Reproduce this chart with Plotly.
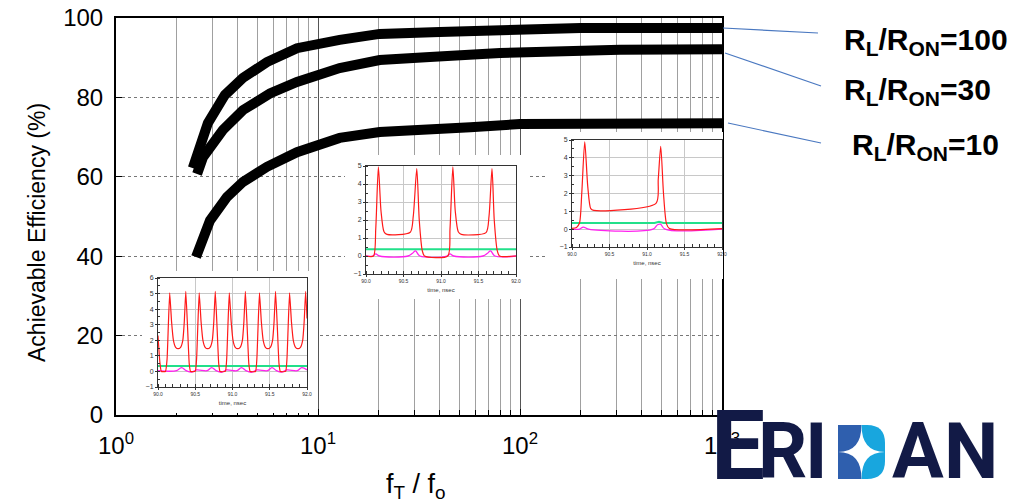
import plotly.graph_objects as go

W, H = 1028, 502

# ---------------- data: main chart ----------------
series_names = ["R<sub>L</sub>/R<sub>ON</sub>=100", "R<sub>L</sub>/R<sub>ON</sub>=30", "R<sub>L</sub>/R<sub>ON</sub>=10"]

ft_fo_100 = [2.40, 2.85, 3.46, 4.25, 5.59, 7.87, 12.8, 16.1, 20.2, 40, 89, 200, 1000]
eff_100 = [62.2, 73.5, 80.6, 84.9, 88.9, 92.4, 94.5, 95.0, 96.0, 96.5, 97.3, 97.5, 97.5]

ft_fo_30 = [2.52, 2.70, 3.38, 4.25, 5.78, 7.87, 12.8, 20.2, 35.8, 79.6, 313, 1000]
eff_30 = [60.7, 65.0, 71.8, 76.8, 81.0, 83.9, 87.4, 89.4, 90.2, 91.2, 92.0, 92.1]

ft_fo_10 = [2.49, 2.92, 3.54, 4.25, 5.59, 7.87, 12.8, 20.2, 56.8, 100, 1000]
eff_10 = [39.8, 49.0, 54.9, 58.7, 62.5, 66.2, 69.8, 71.3, 72.5, 73.3, 73.5]

x_tickvals = [1, 10, 100, 1000]
x_ticktext = ["10<sup>0</sup>", "10<sup>1</sup>", "10<sup>2</sup>", "10<sup>3</sup>"]
x_minorvals = [2, 3, 4, 5, 6, 7, 8, 9, 20, 30, 40, 50, 60, 70, 80, 90,
               200, 300, 400, 500, 600, 700, 800, 900]
y_tickvals = [0, 20, 40, 60, 80, 100]

# ---------------- data: inset waveforms ----------------
inset_xticks = [90.0, 90.5, 91.0, 91.5, 92.0]
inset_xticktext = ["90.0", "90.5", "91.0", "91.5", "92.0"]

# inset 1 (lowest fT/fo)
t1_red = [90.000, 90.025, 90.045, 90.100, 90.122, 90.139,
          90.157, 90.182, 90.207, 90.237, 90.270, 90.303, 90.333, 90.353, 90.373, 90.397, 90.419, 90.437,
          90.500, 90.518, 90.535,
          90.553, 90.578, 90.603, 90.633, 90.666, 90.699, 90.729, 90.749, 90.769, 90.793, 90.815, 90.833,
          90.904, 90.922, 90.939,
          90.957, 90.982, 91.007, 91.037, 91.070, 91.103, 91.133, 91.153, 91.173, 91.197, 91.219, 91.237,
          91.309, 91.327, 91.344,
          91.362, 91.387, 91.412, 91.442, 91.475, 91.508, 91.538, 91.558, 91.578, 91.602, 91.624, 91.642,
          91.713, 91.731, 91.748,
          91.766, 91.791, 91.816, 91.846, 91.879, 91.912, 91.942, 91.962, 91.982, 92.000]
v1_red = [2.3, 0.6, 0.0, 0.0, 0.8, 3.0,
          5.05, 3.2, 2.0, 1.55, 1.46, 1.55, 2.0, 3.2, 5.15, 2.8, 0.5, 0.0,
          0.0, 0.8, 3.0,
          5.05, 3.2, 2.0, 1.55, 1.46, 1.55, 2.0, 3.2, 5.15, 2.8, 0.5, 0.0,
          0.0, 0.8, 3.0,
          5.05, 3.2, 2.0, 1.55, 1.46, 1.55, 2.0, 3.2, 5.15, 2.8, 0.5, 0.0,
          0.0, 0.8, 3.0,
          5.05, 3.2, 2.0, 1.55, 1.46, 1.55, 2.0, 3.2, 5.15, 2.8, 0.5, 0.0,
          0.0, 0.8, 3.0,
          5.05, 3.2, 2.0, 1.55, 1.46, 1.55, 2.0, 3.2, 5.15, 3.4]
t1_mag = [90.0, 90.25, 90.315, 90.38, 90.45, 90.52, 90.66, 90.72, 90.78, 90.86, 90.92, 91.06,
          91.12, 91.18, 91.26, 91.33, 91.47, 91.53, 91.59, 91.66, 91.73, 91.87, 91.93, 92.0]
v1_mag = [0.05, 0.05, 0.25, 0.05, -0.05, 0.1, 0.05, 0.25, 0.05, -0.05, 0.1, 0.05,
          0.25, 0.05, -0.05, 0.1, 0.05, 0.25, 0.05, -0.05, 0.1, 0.05, 0.25, 0.1]
t1_grn = [90.0, 92.0]
v1_grn = [0.35, 0.35]

# inset 2
t2_red = [90.0, 90.10, 90.13, 90.165, 90.20, 90.24, 90.28, 90.59, 90.63, 90.677, 90.71, 90.75, 90.78,
          91.09, 91.12, 91.158, 91.19, 91.23, 91.27, 91.60, 91.64, 91.68, 91.71, 91.75, 91.78, 92.0]
v2_red = [0.0, 0.0, 1.5, 4.95, 2.5, 1.35, 1.2, 1.32, 2.2, 4.85, 2.0, 0.3, 0.0,
          0.0, 1.5, 4.95, 2.5, 1.35, 1.2, 1.3, 2.2, 4.85, 2.0, 0.3, 0.0, 0.0]
t2_mag = [90.0, 90.09, 90.13, 90.18, 90.56, 90.62, 90.66, 90.72, 91.08, 91.12, 91.17,
          91.56, 91.62, 91.66, 91.72, 92.0]
v2_mag = [0.0, 0.0, 0.12, 0.0, 0.0, 0.15, 0.28, 0.0, 0.0, 0.12, 0.0, 0.0, 0.15, 0.28, 0.0, 0.0]
t2_grn = [90.0, 92.0]
v2_grn = [0.38, 0.38]

# inset 3
t3_red = [90.0, 90.06, 90.10, 90.13, 90.17, 90.21, 90.25, 90.29, 91.12, 91.15, 91.183, 91.22, 91.26, 91.30, 92.0]
v3_red = [0.05, 0.1, 0.35, 2.0, 4.9, 2.4, 1.15, 1.05, 1.45, 2.8, 4.65, 2.0, 0.3, 0.03, 0.03]
t3_mag = [90.0, 90.1, 90.15, 90.22, 91.08, 91.14, 91.18, 91.24, 92.0]
v3_mag = [0.0, 0.0, 0.12, 0.0, 0.0, 0.25, 0.28, 0.0, 0.0]
t3_grn = [90.0, 91.10, 91.16, 91.22, 92.0]
v3_grn = [0.35, 0.35, 0.42, 0.35, 0.35]

# ---------------- helpers ----------------
def px_x(p):
    return p / W

def px_y(p):
    return 1 - p / H

FONT = "Liberation Sans"
RED, GRN, MAG = "#ff1a1a", "#22e08a", "#ff22ee"

fig = go.Figure()

# main curves
for xs, ys in [(ft_fo_100, eff_100), (ft_fo_30, eff_30), (ft_fo_10, eff_10)]:
    fig.add_trace(go.Scatter(x=xs, y=ys, mode="lines", line=dict(color="black", width=10),
                             xaxis="x", yaxis="y", showlegend=False, hoverinfo="skip"))

# insets: (cover box px, plot area px, yrange, red smoothing, data)
insets = [
    ((142, 318, 271, 413), (158, 307, 278, 387), [-1, 6], 0.4,
     (t1_red, v1_red, t1_grn, v1_grn, t1_mag, v1_mag)),
    ((345, 529, 155, 299), (366, 516, 166, 274), [-1, 5], 0.7,
     (t2_red, v2_red, t2_grn, v2_grn, t2_mag, v2_mag)),
    ((545, 723, 132, 279), (572, 722, 140, 247), [-1, 5], 0.7,
     (t3_red, v3_red, t3_grn, v3_grn, t3_mag, v3_mag)),
]

layout_axes = {}
ax = 2
for cover, area, yr, smooth, data in insets:
    cx, cy = f"x{ax}", f"y{ax}"
    fig.add_trace(go.Scatter(x=[0, 1, 1, 0, 0], y=[0, 0, 1, 1, 0], fill="toself",
                             fillcolor="white", line=dict(width=0), mode="lines",
                             xaxis=cx, yaxis=cy, showlegend=False, hoverinfo="skip"))
    layout_axes[f"xaxis{ax}"] = dict(domain=[px_x(cover[0]), px_x(cover[1])], range=[0, 1],
                                     visible=False, anchor=cy, automargin=False)
    layout_axes[f"yaxis{ax}"] = dict(domain=[px_y(cover[3]), px_y(cover[2])], range=[0, 1],
                                     visible=False, anchor=cx, automargin=False)
    ax += 1
    ix, iy = f"x{ax}", f"y{ax}"
    tr, vr, tg, vg, tm, vm = data
    fig.add_trace(go.Scatter(x=tg, y=vg, mode="lines", line=dict(color=GRN, width=2),
                             xaxis=ix, yaxis=iy, showlegend=False, hoverinfo="skip"))
    fig.add_trace(go.Scatter(x=tm, y=vm, mode="lines", line=dict(color=MAG, width=1.3, shape="spline"),
                             xaxis=ix, yaxis=iy, showlegend=False, hoverinfo="skip"))
    fig.add_trace(go.Scatter(x=tr, y=vr, mode="lines",
                             line=dict(color=RED, width=1.2, shape="spline", smoothing=smooth),
                             xaxis=ix, yaxis=iy, showlegend=False, hoverinfo="skip"))
    layout_axes[f"xaxis{ax}"] = dict(
        domain=[px_x(area[0]), px_x(area[1])], range=[90, 92], anchor=iy, automargin=False,
        tickvals=inset_xticks, ticktext=inset_xticktext, tickfont=dict(family=FONT, size=5, color="#333"),
        showline=True, mirror=True, linecolor="#333", linewidth=1,
        showgrid=True, gridcolor="#c8c8c8", gridwidth=1, zeroline=False,
        ticks="outside", ticklen=2, tickcolor="#333",
        minor=dict(dtick=0.1, ticks="inside", ticklen=3, tickcolor="#333", showgrid=False),
        title=dict(text="time, nsec", font=dict(family=FONT, size=6, color="#333"), standoff=4))
    layout_axes[f"yaxis{ax}"] = dict(
        domain=[px_y(area[3]), px_y(area[2])], range=yr, anchor=ix, dtick=1, automargin=False,
        tickfont=dict(family=FONT, size=7, color="#333"),
        showline=True, mirror=True, linecolor="#333", linewidth=1,
        showgrid=True, gridcolor="#c8c8c8", gridwidth=1, zeroline=False,
        ticks="outside", ticklen=2, tickcolor="#333",
        minor=dict(dtick=0.5, ticks="inside", ticklen=2, tickcolor="#333", showgrid=False))
    ax += 1

# ---------------- layout ----------------
annotations = [
    dict(text="Achievable Efficiency (%)", x=px_x(37), y=px_y(233), xref="paper", yref="paper",
         xanchor="center", yanchor="middle",
         textangle=-90, showarrow=False, font=dict(family=FONT, size=23, color="black")),
    dict(text="f<sub>T</sub> / f<sub>o</sub>", x=px_x(416), y=px_y(486), xref="paper", yref="paper",
         xanchor="center", yanchor="middle",
         showarrow=False, font=dict(family=FONT, size=27, color="black")),
]
label_pos = [(842, 41), (842, 91), (850, 147)]
for name, (lx, ly) in zip(series_names, label_pos):
    annotations.append(dict(text=f"<b>{name}</b>", x=px_x(lx), y=px_y(ly), xref="paper", yref="paper",
                            xanchor="left", yanchor="middle", showarrow=False,
                            font=dict(family=FONT, size=30, color="black")))

NAVY = "#121a46"
LOGO_FONT = "Roboto"
logo_letters = [("E", 737.5, 446, 96), ("R", 782.5, 452, 77), ("I", 816, 452, 77),
                ("A", 917.5, 452, 77), ("N", 971, 452, 77)]
for ch, lx, ly, fs in logo_letters:
    annotations.append(dict(text=f"<b>{ch}</b>", x=px_x(lx), y=px_y(ly), xref="paper", yref="paper",
                            xanchor="center", yanchor="middle", showarrow=False,
                            font=dict(family=LOGO_FONT, size=fs, color=NAVY, weight=900)))

shapes = []
for (x0, y0, x1, y1) in [(723, 28, 818, 33), (725, 53, 821, 86), (728, 123, 821, 143)]:
    shapes.append(dict(type="line", xref="paper", yref="paper", x0=px_x(x0), y0=px_y(y0),
                       x1=px_x(x1), y1=px_y(y1), line=dict(color="#4a78c0", width=1.2)))

# logo "D" icon
L, R_, T, B = 838, 885, 425, 479
cxm, cym = (L + R_) / 2, (T + B) / 2
r = 18
def P(x, y):
    return f"{px_x(x):.5f},{px_y(y):.5f}"
shapes.append(dict(type="path", xref="paper", yref="paper", line=dict(width=0), fillcolor="#2f5fae",
                   path=f"M{P(L,T)} L{P(cxm,T)} L{P(cxm,B)} L{P(L,B)} Z"))
shapes.append(dict(type="path", xref="paper", yref="paper", line=dict(width=0), fillcolor="#18a6de",
                   path=f"M{P(cxm,T)} L{P(R_-r,T)} Q{P(R_,T)} {P(R_,T+r)} L{P(R_,B-r)} Q{P(R_,B)} {P(R_-r,B)} L{P(cxm,B)} Z"))
shapes.append(dict(type="path", xref="paper", yref="paper", line=dict(width=0), fillcolor="white",
                   path=f"M{P(cxm,T)} Q{P(cxm,cym)} {P(R_,cym)} Q{P(cxm,cym)} {P(cxm,B)} Q{P(cxm,cym)} {P(L,cym)} Q{P(cxm,cym)} {P(cxm,T)} Z"))

fig.update_layout(
    width=W, height=H, margin=dict(l=0, r=0, t=0, b=0, autoexpand=False),
    paper_bgcolor="white", plot_bgcolor="white", showlegend=False,
    xaxis=dict(type="log", range=[0, 3], domain=[px_x(116), px_x(722)], anchor="y", automargin=False,
               tickvals=x_tickvals, ticktext=x_ticktext,
               tickfont=dict(family=FONT, size=24, color="black"), ticklabelstandoff=8,
               showline=True, mirror=True, linecolor="black", linewidth=2,
               ticks="inside", ticklen=6, tickcolor="black",
               showgrid=True, gridcolor="#555", gridwidth=1.2,
               minor=dict(tickvals=x_minorvals, ticks="inside", ticklen=5, tickcolor="black",
                          showgrid=True, gridcolor="#a0a0a0", gridwidth=1.2),
               zeroline=False),
    yaxis=dict(range=[0, 100], domain=[px_y(415), px_y(18)], anchor="x", automargin=False,
               tickvals=y_tickvals, tickfont=dict(family=FONT, size=24, color="black"),
               ticklabelstandoff=6,
               showline=True, mirror=True, linecolor="black", linewidth=2,
               ticks="inside", ticklen=6, tickcolor="black",
               showgrid=True, gridcolor="#777", gridwidth=1, griddash="dot", zeroline=False),
    annotations=annotations, shapes=shapes,
    **layout_axes,
)

fig.write_html("out.html")
